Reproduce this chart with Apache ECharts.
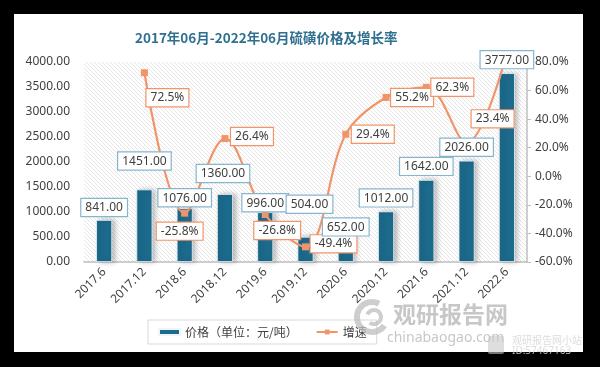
<!DOCTYPE html>
<html>
<head>
<meta charset="utf-8">
<script src="https://cdn.jsdelivr.net/npm/echarts@6/dist/echarts.min.js"></script>
<style>html,body{margin:0;padding:0;background:#000;}#c{width:600px;height:367px;}</style>
</head>
<body>
<div id="c"></div>
<script>
const categories = ['2017.6','2017.12','2018.6','2018.12','2019.6','2019.12','2020.6','2020.12','2021.6','2021.12','2022.6'];
const prices = [841, 1451, 1076, 1360, 996, 504, 652, 1012, 1642, 2026, 3777];
const growth = [null, 72.5, -25.8, 26.4, -26.8, -49.4, 29.4, 55.2, 62.3, 23.4, 86.4];
const leftTicks = {min: 0, max: 4000, interval: 500};
const rightTicks = {min: -60, max: 80, interval: 20};

// label placement (style only)
const priceLabelOffsets = [[0,1],[0,-15],[0,3],[-2,-7],[0,4],[4,-19],[0,11],[0,0],[0,0],[0,0],[0,0]];
const growthLabelOffsets = [null,[23,25],[-5,18],[27,-2],[12,16],[28,-3],[27,0],[26,0],[26,0],[26,-24],null];

const font = "'Noto Sans', 'Noto Sans CJK SC', sans-serif";
const cjk = "'Noto Sans CJK SC', sans-serif";

const pc = document.createElement('canvas');
pc.width = 4; pc.height = 4;
const g = pc.getContext('2d');
g.fillStyle = '#ffffff'; g.fillRect(0,0,4,4);
g.strokeStyle = '#e6e6e6'; g.lineWidth = 1;
g.beginPath();
g.moveTo(-1,-1); g.lineTo(5,5);
g.moveTo(-1,3); g.lineTo(1,5);
g.moveTo(3,-1); g.lineTo(5,1);
g.stroke();

const chart = echarts.init(document.getElementById('c'));
const labelBox = {
  backgroundColor: '#fff', borderWidth: 1.2, padding: [3,4,2,4],
  fontSize: 12, color: '#404040', fontFamily: font
};
chart.setOption({
  backgroundColor: '#ffffff',
  animation: false,
  title: {
    text: '2017年06月-2022年06月硫磺价格及增长率',
    left: 130, top: 26,
    textStyle: {fontSize: 13.5, fontWeight: 'bold', color: '#2F6F90', fontFamily: cjk}
  },
  grid: {
    left: 84, right: 73, top: 62, bottom: 105,
    show: true, borderWidth: 0,
    backgroundColor: {image: pc, repeat: 'repeat'}
  },
  legend: {
    left: 148, top: 320,
    padding: [6, 10], itemGap: 18,
    itemWidth: 21, itemHeight: 6,
    borderColor: '#d9d9d9', borderWidth: 1,
    textStyle: {fontSize: 12, color: '#404040', fontFamily: cjk},
    data: [
      {name: '价格（单位：元/吨）', icon: 'rect'},
      {name: '增速'}
    ]
  },
  xAxis: {
    type: 'category', data: categories,
    axisLine: {lineStyle: {color: '#bfbfbf', width: 1.5}},
    axisTick: {show: false},
    axisLabel: {interval: 0, rotate: 45, fontSize: 12, color: '#404040', fontFamily: font, margin: 8}
  },
  yAxis: [
    {
      type: 'value', min: leftTicks.min, max: leftTicks.max, interval: leftTicks.interval,
      axisLine: {show: false}, axisTick: {show: false}, splitLine: {show: false},
      axisLabel: {formatter: v => v.toFixed(2), fontSize: 12, color: '#404040', fontFamily: font, margin: 14}
    },
    {
      type: 'value', min: rightTicks.min, max: rightTicks.max, interval: rightTicks.interval,
      axisLine: {show: true, lineStyle: {color: '#bfbfbf', width: 1.5}},
      axisTick: {show: true, length: 4, lineStyle: {color: '#bfbfbf'}},
      splitLine: {show: false},
      axisLabel: {formatter: v => v.toFixed(1) + '%', fontSize: 12, color: '#404040', fontFamily: font, margin: 8}
    }
  ],
  series: [
    {
      name: '价格（单位：元/吨）', type: 'bar', barWidth: 16,
      itemStyle: {color: '#1C6A8C', borderColor: '#eef4f7', borderWidth: 0.8,
        shadowColor: 'rgba(0,0,0,0.28)', shadowBlur: 5, shadowOffsetX: 3, shadowOffsetY: 0},
      data: prices,
      z: 2
    },
    {
      name: 'priceLabels', type: 'bar', barWidth: 16, barGap: '-100%',
      itemStyle: {color: 'rgba(0,0,0,0)'},
      label: Object.assign({show: true, position: 'top', distance: 5, borderColor: '#86B6CD',
        formatter: p => p.value.toFixed(2)}, labelBox),
      data: prices.map((v, i) => ({value: v, label: {offset: priceLabelOffsets[i]}})),
      silent: true, z: 5
    },
    {
      name: '增速', type: 'line', yAxisIndex: 1, smooth: 0.35,
      symbol: 'rect', symbolSize: 7, clip: true,
      itemStyle: {color: '#F0956A'},
      lineStyle: {color: '#F0956A', width: 2.2},
      label: Object.assign({show: true, position: 'inside', borderColor: '#F0956A',
        formatter: p => p.value.toFixed(1) + '%'}, labelBox),
      data: growth.map((v, i) => {
        if (v === null) return '-';
        if (!growthLabelOffsets[i]) return {value: v, symbol: 'none', label: {show: false}};
        return {value: v, label: {offset: growthLabelOffsets[i]}};
      }),
      z: 3
    }
  ],
  graphic: [
    {type: 'rect', shape: {x: 0, y: 0, width: 600, height: 14}, style: {fill: '#000'}, silent: true},
    {type: 'rect', shape: {x: 0, y: 352, width: 600, height: 15}, style: {fill: '#000'}, silent: true},
    {type: 'rect', shape: {x: 0, y: 0, width: 14, height: 367}, style: {fill: '#000'}, silent: true},
    {type: 'rect', shape: {x: 583, y: 0, width: 17, height: 367}, style: {fill: '#000'}, silent: true},
    {type: 'arc', shape: {cx: 372, cy: 317, r: 15, startAngle: 0.6, endAngle: 5.2}, style: {stroke: 'rgba(190,190,190,0.75)', lineWidth: 6, fill: null}, silent: true, z: 10},
    {type: 'arc', shape: {cx: 374, cy: 317, r: 7, startAngle: 3.5, endAngle: 8.5}, style: {stroke: 'rgba(190,190,190,0.75)', lineWidth: 4, fill: null}, silent: true, z: 10},
    {type: 'text', left: 393, top: 303, style: {text: '观研报告网', fontSize: 23, fontWeight: 'bold', fill: 'rgba(185,185,185,0.8)', fontFamily: cjk}, silent: true, z: 10},
    {type: 'text', left: 387, top: 331, style: {text: 'chinabaogao.com', fontSize: 14, fill: 'rgba(185,185,185,0.8)', fontFamily: font}, silent: true, z: 10},
    {type: 'rect', shape: {x: 488, y: 336, width: 16, height: 18, r: 2}, style: {fill: 'rgba(200,200,200,0.6)'}, silent: true, z: 10},
    {type: 'text', left: 512, top: 335, style: {text: '观研报告网小站', fontSize: 10, fill: 'rgba(215,215,215,0.85)', fontFamily: cjk}, silent: true, z: 10},
    {type: 'text', left: 512, top: 346, style: {text: 'ID:57467163', fontSize: 10, fill: 'rgba(215,215,215,0.85)', fontFamily: font}, silent: true, z: 10}
  ]
});
</script>
</body>
</html>
